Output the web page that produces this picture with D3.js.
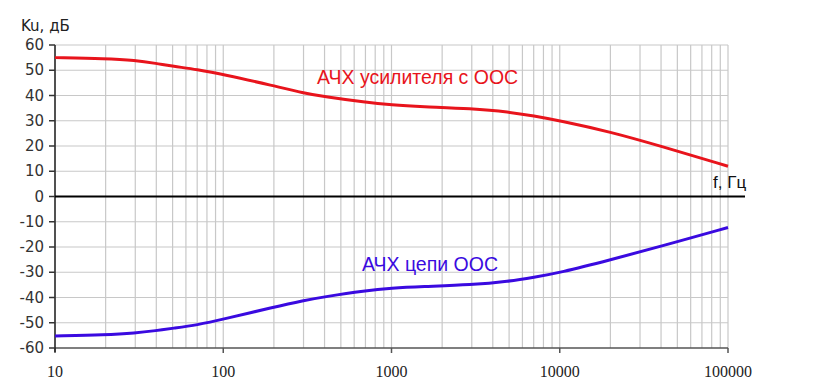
<!DOCTYPE html>
<html lang="ru">
<head>
    <meta charset="UTF-8">
    <title>АЧХ усилителя с ООС</title>
    <script src="https://d3js.org/d3.v7.min.js"></script>
    <style>
        body { margin: 0; background: #fff; }
        .grid line { stroke: #c8c8c8; stroke-width: 1.2; }
        .ytick { font-family: "DejaVu Sans", sans-serif; font-size: 15px; fill: #333; }
        .xtick { font-family: "Liberation Serif", serif; font-size: 16px; fill: #222; }
        .curve { fill: none; stroke-width: 3; }
    </style>
</head>
<body>
    <div id="chart"></div>
    <script>
        // frequencies, Hz
        const freqs = [10, 20, 30, 40, 50, 70, 100, 200, 300, 400, 700, 1000, 1500, 3000, 5000, 7000, 10000, 20000, 40000, 100000];
        // amplifier with feedback, dB
        const ampGain = [55, 54.6, 53.9, 52.7, 51.6, 50.3, 48.4, 43.8, 41, 39.5, 37.3, 36.3, 35.6, 34.8, 33.5, 31.9, 30, 25.6, 19.9, 12];
        // feedback network, dB
        const fbGain = [-55.2, -54.8, -54.1, -53.1, -52.2, -50.9, -48.6, -43.8, -41.2, -39.7, -37.3, -36.3, -35.7, -35, -33.6, -32, -30.2, -25.1, -19.7, -12.3];
        const yTicks = [60, 50, 40, 30, 20, 10, 0, -10, -20, -30, -40, -50, -60];
        const xTicks = [10, 100, 1000, 10000, 100000];

        const svg = d3.select("#chart").append("svg")
            .attr("width", 823)
            .attr("height", 385);

        const x = d3.scaleLog().domain([10, 100000]).range([55, 728]);
        const y = d3.scaleLinear().domain([-60, 60]).range([348, 45]);

        // log grid lines
        const minor = [];
        [10, 100, 1000, 10000].forEach(d => {
            for (let k = 1; k < 10; k++) minor.push(d * k);
        });
        minor.push(100000);

        const grid = svg.append("g").attr("class", "grid");
        grid.selectAll(".v").data(minor).enter().append("line")
            .attr("x1", d => x(d)).attr("x2", d => x(d))
            .attr("y1", y(60)).attr("y2", y(-60));
        grid.selectAll(".h").data(yTicks.filter(d => d !== 0 && d !== -60)).enter().append("line")
            .attr("x1", x(10)).attr("x2", x(100000))
            .attr("y1", d => y(d)).attr("y2", d => y(d));

        // bottom axis
        svg.append("line")
            .attr("x1", x(10)).attr("x2", x(100000))
            .attr("y1", y(-60)).attr("y2", y(-60))
            .attr("stroke", "#555").attr("stroke-width", 1.5);
        svg.selectAll(".xt").data(xTicks).enter().append("line")
            .attr("x1", d => x(d)).attr("x2", d => x(d))
            .attr("y1", y(-60)).attr("y2", y(-60) + 5)
            .attr("stroke", "#555").attr("stroke-width", 1.5);
        svg.selectAll(".xl").data(xTicks).enter().append("text")
            .attr("class", "xtick")
            .attr("x", d => x(d)).attr("y", 377)
            .attr("text-anchor", "middle")
            .text(d => d);

        // left axis
        svg.append("line")
            .attr("x1", x(10)).attr("x2", x(10))
            .attr("y1", y(60)).attr("y2", y(-60) + 4)
            .attr("stroke", "#222").attr("stroke-width", 1.5);
        svg.selectAll(".yt").data(yTicks).enter().append("line")
            .attr("x1", x(10) - 6).attr("x2", x(10))
            .attr("y1", d => y(d)).attr("y2", d => y(d))
            .attr("stroke", "#333").attr("stroke-width", 1.5);
        svg.selectAll(".yl").data(yTicks).enter().append("text")
            .attr("class", "ytick")
            .attr("x", 44).attr("y", d => y(d))
            .attr("text-anchor", "end")
            .attr("dominant-baseline", "central")
            .text(d => d);

        // zero line
        svg.append("line")
            .attr("x1", x(10)).attr("x2", 745)
            .attr("y1", y(0)).attr("y2", y(0))
            .attr("stroke", "#000").attr("stroke-width", 2);

        const line = d3.line()
            .x(d => x(d[0]))
            .y(d => y(d[1]))
            .curve(d3.curveBasis);

        svg.append("path")
            .datum(d3.zip(freqs, ampGain))
            .attr("class", "curve")
            .attr("stroke", "#e8141c")
            .attr("d", line);

        svg.append("path")
            .datum(d3.zip(freqs, fbGain))
            .attr("class", "curve")
            .attr("stroke", "#3a0ae0")
            .attr("stroke-width", 3.5)
            .attr("d", line);

        // labels
        svg.append("text")
            .attr("x", 21).attr("y", 31)
            .style("font-family", "DejaVu Sans, sans-serif")
            .style("font-size", "15px")
            .attr("fill", "#222")
            .text("Ku, дБ");

        svg.append("text")
            .attr("x", 317).attr("y", 84)
            .style("font-family", "Liberation Sans, Arial, sans-serif")
            .style("font-size", "19.5px")
            .attr("fill", "#e8141c")
            .text("АЧХ усилителя с ООС");

        svg.append("text")
            .attr("x", 362).attr("y", 271)
            .style("font-family", "Liberation Sans, Arial, sans-serif")
            .style("font-size", "19.5px")
            .attr("fill", "#3a0ae0")
            .text("АЧХ цепи ООС");

        svg.append("text")
            .attr("x", 713).attr("y", 188)
            .style("font-family", "Liberation Sans, Arial, sans-serif")
            .style("font-size", "17px")
            .attr("fill", "#111")
            .text("f, Гц");
    </script>
</body>
</html>
